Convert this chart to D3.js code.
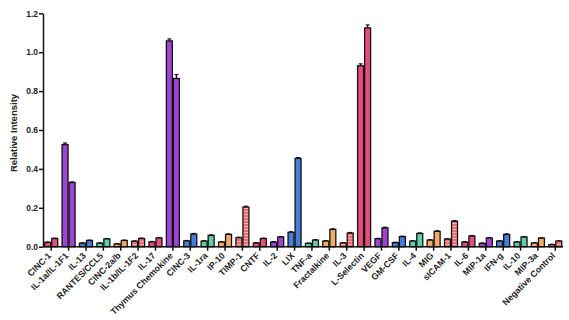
<!DOCTYPE html>
<html><head><meta charset="utf-8">
<script src="https://cdn.jsdelivr.net/npm/d3@7"></script>
<style>body{margin:0;background:#fff}svg{display:block}</style>
</head><body>
<svg id="c" width="569" height="320"></svg>
<script>
const categories = ["CINC-1","IL-1a/IL-1F1","IL-13","RANTES/CCL5","CINC-2a/b","IL-1b/IL-1F2","IL-17","Thymus Chemokine","CINC-3","IL-1ra","IP-10","TIMP-1","CNTF","IL-2","LIX","TNF-a","Fractalkine","IL-3","L-Selectin","VEGF","GM-CSF","IL-4","MIG","sICAM-1","IL-6","MIP-1a","IFN-g","IL-10","MIP-3a","Negative Control"];
const seriesA = [0.022,0.525,0.018,0.018,0.014,0.028,0.025,1.058,0.030,0.029,0.024,0.046,0.019,0.024,0.074,0.017,0.029,0.019,0.930,0.041,0.021,0.029,0.034,0.039,0.024,0.017,0.029,0.024,0.019,0.011];
const seriesB = [0.042,0.330,0.032,0.040,0.032,0.042,0.045,0.865,0.065,0.058,0.063,0.204,0.042,0.050,0.454,0.034,0.089,0.070,1.125,0.097,0.052,0.068,0.079,0.131,0.055,0.045,0.063,0.050,0.044,0.029];
const errA = [0.002,0.008,0.002,0.002,0.002,0.002,0.002,0.010,0.002,0.002,0.002,0.003,0.002,0.002,0.003,0.002,0.002,0.002,0.010,0.002,0.002,0.002,0.002,0.002,0.002,0.002,0.002,0.002,0.002,0.001];
const errB = [0.002,0.003,0.002,0.002,0.002,0.002,0.002,0.020,0.003,0.003,0.003,0.004,0.002,0.002,0.004,0.002,0.003,0.003,0.015,0.003,0.002,0.003,0.003,0.003,0.002,0.002,0.003,0.002,0.002,0.001];
const yTicks = [0.0,0.2,0.4,0.6,0.8,1.0,1.2];
const palette = ["#e64c7c","#9f44d4","#447ddb","#5fcda6","#f4ab62","hatch"];

const svg = d3.select("#c");
const defs = svg.append("defs");
const pat = defs.append("pattern").attr("id","hatch").attr("patternUnits","userSpaceOnUse").attr("width",4).attr("height",3);
pat.append("rect").attr("width",4).attr("height",3).attr("fill","#ef6a72");
pat.append("rect").attr("y",1).attr("width",4).attr("height",1).attr("fill","#f7b3b6");

const x0 = 43, x1 = 563, yBase = 246.7, yTop = 13.3;
const x = d3.scaleBand().domain(categories).range([42.5, 564]).paddingInner(0).paddingOuter(0);
const inner = d3.scaleBand().domain(["A","B"]).range([-6.5, 6.5]).paddingInner(0.15);
const y = d3.scaleLinear().domain([0,1.2]).range([yBase, yTop]);

const fillFor = i => { const c = palette[i % 6]; return c === "hatch" ? "url(#hatch)" : c; };
const font = "Liberation Sans, Arial, sans-serif";

const g = svg.append("g");
categories.forEach((cat, i) => {
  const cx = x(cat) + x.bandwidth()/2;
  [["A", seriesA[i], errA[i]], ["B", seriesB[i], errB[i]]].forEach(([k, v, e]) => {
    const bx = cx + inner(k);
    const bw = inner.bandwidth();
    const ex = bx + bw/2;
    g.append("line").attr("x1",ex).attr("x2",ex).attr("y1",y(v)).attr("y2",y(v+e)).attr("stroke","#111").attr("stroke-width",1.2);
    g.append("line").attr("x1",ex-2).attr("x2",ex+2).attr("y1",y(v+e)).attr("y2",y(v+e)).attr("stroke","#111").attr("stroke-width",1.2);
    g.append("rect").attr("x",bx).attr("y",y(v)).attr("width",bw).attr("height",yBase - y(v))
      .attr("fill",fillFor(i)).attr("stroke","#111").attr("stroke-width",1.3);
  });
});

// Y axis
const yAxis = d3.axisLeft(y).tickValues(yTicks).tickFormat(d3.format(".1f")).tickSize(4).tickSizeOuter(0);
const ya = svg.append("g").attr("transform",`translate(${x0},0)`).call(yAxis);
ya.select(".domain").attr("stroke","#111").attr("stroke-width",1.5);
ya.selectAll(".tick line").attr("stroke","#111").attr("stroke-width",1.5);
ya.selectAll(".tick text").attr("font-family",font).attr("font-weight","bold").attr("font-size","8.5px").attr("fill","#222").attr("x",-5);

// X axis
const xAxis = d3.axisBottom(x).tickSize(4).tickSizeOuter(0);
const xa = svg.append("g").attr("transform",`translate(0,${yBase})`).call(xAxis);
xa.select(".domain").attr("stroke","#111").attr("stroke-width",1.5).attr("d",`M${x0},0H${x1}`);
xa.selectAll(".tick line").attr("stroke","#111").attr("stroke-width",1.5);
xa.selectAll(".tick text").attr("font-family",font).attr("font-weight","bold").attr("font-size","8.8px").attr("fill","#222")
  .attr("text-anchor","end").attr("dy","0").attr("y",0)
  .attr("transform","translate(0.5,9.5) rotate(-45)");

svg.append("text").attr("transform","translate(17,133) rotate(-90)").attr("text-anchor","middle")
  .attr("font-family",font).attr("font-weight","bold").attr("font-size","9.5px").attr("fill","#222")
  .text("Relative Intensity");
</script>
</body></html>
